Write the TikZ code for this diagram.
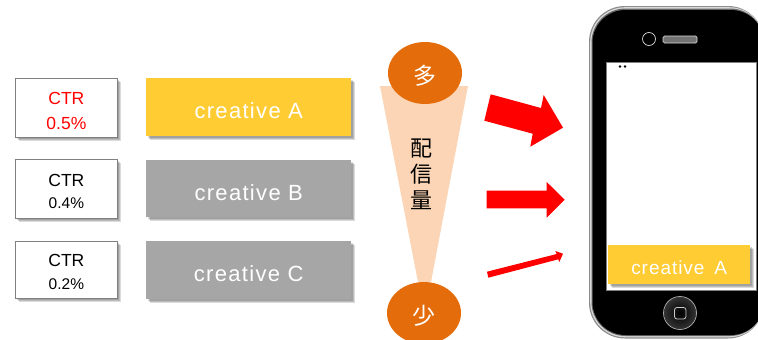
\documentclass[tikz,border=0pt]{standalone}
\usepackage{fontspec}
\setmainfont{Noto Sans CJK JP}
\newfontfamily\latinf{Liberation Sans}
\newfontfamily\latinw[LetterSpace=6]{Liberation Sans}
\newfontfamily\latinx[LetterSpace=5,WordSpace=1.6]{Liberation Sans}
\definecolor{cyel}{HTML}{FFCC33}
\definecolor{cgry}{HTML}{A6A6A6}
\definecolor{corg}{HTML}{E46C0A}
\definecolor{cpch}{HTML}{FBD5B5}
\usetikzlibrary{calc,shapes.geometric}
\tikzset{x=1pt,y=-1pt,
 softshadow/.style={fill=black,draw=none,opacity=.14},
 ctrbox/.style={draw=black!50,line width=.8pt,fill=white,minimum width=102pt,minimum height=58pt,inner sep=0pt,align=center,font=\latinf\fontsize{17.5}{24}\selectfont,anchor=north west},
 crbox/.style={minimum width=205pt,minimum height=58pt,inner sep=0pt,text=white,text height=23.5pt,text depth=0pt,font=\latinw\fontsize{22}{24}\selectfont,anchor=north west},
 orgell/.style={ellipse,fill=corg,minimum width=74pt,minimum height=62pt,inner sep=0pt,text=white,text height=23pt,text depth=0pt,font=\fontsize{23}{26}\selectfont},
 redarrow/.style={fill=red,draw=none}}
\newcommand{\shbox}[4]{\foreach \d in {1.5,2.5,3.5}{\fill[softshadow] (#1+\d,#2+\d) rectangle (#3+\d,#4+\d);}}
\begin{document}
\begin{tikzpicture}
\useasboundingbox (0,0) rectangle (758,340);
\fill[white] (0,0) rectangle (758,340);
\clip (0,0) rectangle (758,340);
% shadows
\shbox{15}{78}{117}{137}
\shbox{15}{159}{117}{218}
\shbox{15}{241}{117}{298}
\shbox{146}{78}{351}{136}
\shbox{146}{160}{351}{217}
\shbox{146}{241}{351}{299}
% ctr boxes
\node[ctrbox,text=red,minimum height=59pt] (c1) at (15,78) {\rule{0pt}{17.5pt}CTR\\[1pt]0.5\%};
\node[ctrbox,minimum height=59pt] (c2) at (15,159) {\rule{0pt}{17.5pt}CTR\\[-1.5pt]\fontsize{15.5}{22}\selectfont 0.4\%};
\node[ctrbox,minimum height=57pt] (c3) at (15,241) {\rule{0pt}{16pt}CTR\\[-1.5pt]\fontsize{15.5}{22}\selectfont 0.2\%};
% creatives
\node[crbox,fill=cyel] (a) at (146,78) {creative A};
\node[crbox,fill=cgry,minimum height=57pt] (b) at (146,160) {creative B};
\node[crbox,fill=cgry] (cc) at (146,241) {creative C};
% wedge
\fill[cpch] (380,86) -- (468,86) -- (431,282) -- (418,282) -- cycle;
\node[font=\fontsize{22}{26}\selectfont,align=center,inner sep=0pt] (v) at (421.5,174) {配\\信\\量};
\node[orgell] (m) at (425,73) {多};
\node[orgell] (s) at (424,313) {少};
% arrows
\fill[redarrow] (490.7,94.3) -- (541,108) -- (543.7,95) -- (563,127.7) -- (530.3,146.7) -- (532.7,133.7) -- (484.3,120.7) -- cycle;
\fill[redarrow] (486.7,190.7) -- (546.7,190.7) -- (546.7,182) -- (564.7,199.7) -- (546.7,217.7) -- (546.7,208.3) -- (486.7,208.3) -- cycle;
\fill[redarrow] (487,271.7) -- (556.7,254) -- (555.3,251) -- (563,253.7) -- (559.3,262) -- (558.3,259.3) -- (488.3,277.7) -- cycle;
% phone
\fill[black!45] (589,338.5) [rounded corners=36pt] -- (589,6) -- (764,6) -- (764,338.5) -- cycle;
\fill[white!85!black] (590.2,337.3) [rounded corners=35pt] -- (590.2,7.2) -- (764,7.2) -- (764,337.3) -- cycle;
\fill[black!60] (591.5,336) [rounded corners=34pt] -- (591.5,8.5) -- (764,8.5) -- (764,336) -- cycle;
\fill[black] (592.5,335) [rounded corners=33pt] -- (592.5,10) -- (764,10) -- (764,335) -- cycle;
\fill[white] (606,62) rectangle (756,290);
\draw[black!50,line width=.5pt] (606,62) rectangle (756,290);
\draw[white!85!black,line width=.7pt] (649,39) circle (6.5);
\draw[white!85!black,line width=.7pt,fill=black!55,rounded corners=1.5pt] (663,36) rectangle (697,43);
\fill[black] (620,66.5) circle (1.3) (625,66.5) circle (1.3);
\shade[inner color=black,outer color=black!80] (680,313) circle (16);
\draw[black!35,line width=.8pt] (680,313) circle (16.5);
\draw[white!80!black,line width=.8pt,rounded corners=2.5pt] (674.5,307.5) rectangle (686,319);
\foreach \d in {1.5,2.5,3.5}{\fill[softshadow] (608+\d,245+\d) rectangle (750+\d,284+\d);}
\node[crbox,fill=cyel,minimum width=142pt,minimum height=39pt,text height=19pt,font=\latinx\fontsize{19}{22}\selectfont] (p) at (608,245) {creative A};
\end{tikzpicture}
\end{document}
